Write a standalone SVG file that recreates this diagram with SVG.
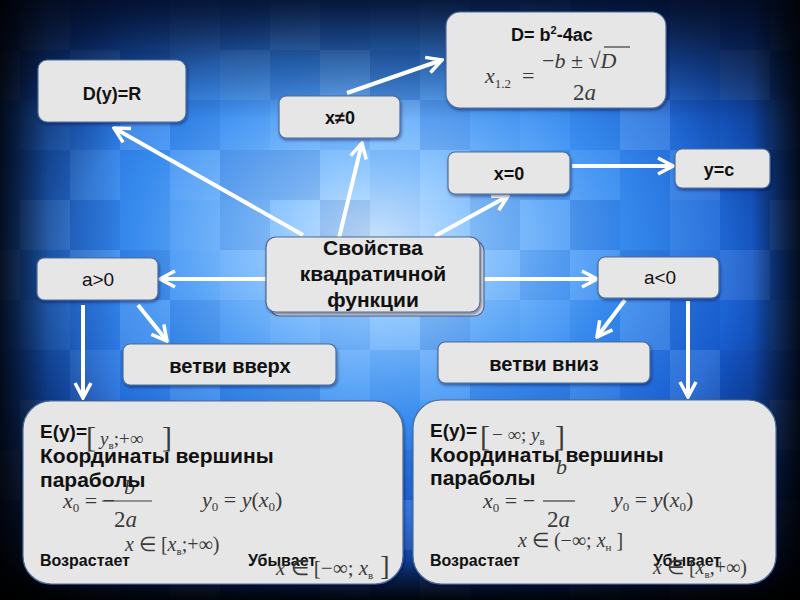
<svg xmlns="http://www.w3.org/2000/svg" width="800" height="600" viewBox="0 0 800 600">
<defs>
<radialGradient id="bg" cx="0.47" cy="0.4" r="0.72">
<stop offset="0" stop-color="#cfe8ff"/>
<stop offset="0.18" stop-color="#86c2ff"/>
<stop offset="0.42" stop-color="#3a8ff2"/>
<stop offset="0.68" stop-color="#1559cc"/>
<stop offset="1" stop-color="#071d55"/>
</radialGradient>
<radialGradient id="vig" cx="0.5" cy="0.45" r="0.75">
<stop offset="0.55" stop-color="#000" stop-opacity="0"/>
<stop offset="0.85" stop-color="#000" stop-opacity="0.45"/>
<stop offset="1" stop-color="#000" stop-opacity="0.9"/>
</radialGradient>
<linearGradient id="topdark" x1="0" y1="0" x2="0" y2="1">
<stop offset="0" stop-color="#020a22" stop-opacity="0.85"/>
<stop offset="0.1" stop-color="#020a22" stop-opacity="0.35"/>
<stop offset="0.2" stop-color="#020a22" stop-opacity="0"/>
<stop offset="0.93" stop-color="#000" stop-opacity="0"/>
<stop offset="1" stop-color="#000" stop-opacity="0.9"/>
</linearGradient>
<linearGradient id="sidedark" x1="0" y1="0" x2="1" y2="0">
<stop offset="0" stop-color="#000" stop-opacity="0.8"/>
<stop offset="0.06" stop-color="#000" stop-opacity="0.2"/>
<stop offset="0.15" stop-color="#000" stop-opacity="0"/>
<stop offset="0.94" stop-color="#000" stop-opacity="0"/>
<stop offset="1" stop-color="#000" stop-opacity="0.8"/>
</linearGradient>
<pattern id="mosaic" width="250" height="200" patternUnits="userSpaceOnUse" x="20" y="0">
<rect x="0" y="0" width="50" height="50" fill="#fff" fill-opacity="0.07"/>
<rect x="50" y="0" width="50" height="50" fill="#002080" fill-opacity="0.10"/>
<rect x="100" y="0" width="50" height="50" fill="#002080" fill-opacity="0.03"/>
<rect x="150" y="0" width="50" height="50" fill="#fff" fill-opacity="0.05"/>
<rect x="200" y="0" width="50" height="50" fill="#002080" fill-opacity="0.08"/>
<rect x="0" y="50" width="50" height="50" fill="#002080" fill-opacity="0.06"/>
<rect x="50" y="50" width="50" height="50" fill="#fff" fill-opacity="0.09"/>
<rect x="100" y="50" width="50" height="50" fill="#002080" fill-opacity="0.12"/>
<rect x="150" y="50" width="50" height="50" fill="#fff" fill-opacity="0.03"/>
<rect x="200" y="50" width="50" height="50" fill="#fff" fill-opacity="0.08"/>
<rect x="0" y="100" width="50" height="50" fill="#fff" fill-opacity="0.03"/>
<rect x="50" y="100" width="50" height="50" fill="#002080" fill-opacity="0.04"/>
<rect x="100" y="100" width="50" height="50" fill="#fff" fill-opacity="0.10"/>
<rect x="150" y="100" width="50" height="50" fill="#002080" fill-opacity="0.09"/>
<rect x="200" y="100" width="50" height="50" fill="#002080" fill-opacity="0.02"/>
<rect x="0" y="150" width="50" height="50" fill="#002080" fill-opacity="0.11"/>
<rect x="50" y="150" width="50" height="50" fill="#fff" fill-opacity="0.06"/>
<rect x="100" y="150" width="50" height="50" fill="#002080" fill-opacity="0.03"/>
<rect x="150" y="150" width="50" height="50" fill="#fff" fill-opacity="0.09"/>
<rect x="200" y="150" width="50" height="50" fill="#002080" fill-opacity="0.10"/>
</pattern>
<marker id="ah" viewBox="0 0 20 20" markerWidth="20" markerHeight="20" refX="18" refY="10" orient="auto" markerUnits="userSpaceOnUse">
<path d="M3,2 L18,10 L3,18" fill="none" stroke="#fff" stroke-width="3.5" stroke-linejoin="miter"/>
</marker>
<filter id="sh" x="-10%" y="-10%" width="130%" height="130%">
<feDropShadow dx="1" dy="2" stdDeviation="1.5" flood-color="#001040" flood-opacity="0.45"/>
</filter>
</defs>
<style>
.box{fill:#e6e6e6;stroke:#4d6c96;stroke-width:1.2;filter:url(#sh)}
.t{font-family:"Liberation Sans",Arial,sans-serif;fill:#111}
.b{font-weight:bold}
.c{text-anchor:middle}
.m{font-family:"Liberation Serif","Times New Roman",serif;font-style:italic;fill:#3a3a3a}
.n{font-family:"Liberation Serif","Times New Roman",serif;fill:#3a3a3a}
.bar{stroke:#3a3a3a;stroke-width:1.2}
#connectors line{stroke:#fff;stroke-width:4;marker-end:url(#ah)}
</style>

<rect width="800" height="600" fill="url(#bg)"/>
<rect width="800" height="600" fill="url(#mosaic)"/>
<rect width="800" height="600" fill="url(#vig)"/>
<rect width="800" height="600" fill="url(#topdark)"/>
<rect width="800" height="600" fill="url(#sidedark)"/>

<g id="connectors">
<line x1="303" y1="235" x2="114" y2="128"/>
<line x1="339" y1="238" x2="362" y2="143"/>
<line x1="347" y1="93" x2="442" y2="60"/>
<line x1="435" y1="236" x2="508" y2="196"/>
<line x1="572" y1="166" x2="673" y2="166"/>
<line x1="266" y1="279" x2="160" y2="279"/>
<line x1="482" y1="279" x2="597" y2="279"/>
<line x1="138" y1="305" x2="167" y2="341"/>
<line x1="83" y1="305" x2="83" y2="398"/>
<line x1="625" y1="300" x2="597" y2="337"/>
<line x1="688" y1="301" x2="688" y2="397"/>
</g>

<g id="node-dy">
<rect class="box" x="38" y="60" width="148" height="62" rx="9"/>
<text class="t b c" x="112" y="100" font-size="18">D(y)=R</text>
</g>

<g id="node-disc">
<rect class="box" x="446" y="12" width="220" height="96" rx="14"/>
<text class="t b" x="511" y="41" font-size="18">D= b<tspan font-size="11" dy="-7">2</tspan><tspan dy="7">-4ac</tspan></text>
<text class="m" x="485" y="83" font-size="22">x<tspan font-size="13" dy="5" font-style="normal">1.2</tspan></text>
<text class="n" x="522" y="83" font-size="22">=</text>
<text class="n" x="542" y="68" font-size="22">−<tspan font-style="italic">b</tspan> ± √<tspan font-style="italic">D</tspan></text>
<line class="bar" x1="604" y1="47" x2="630" y2="47"/>
<text class="m" x="573" y="100" font-size="23"><tspan font-style="normal">2</tspan>a</text>
</g>

<g id="node-xne0">
<rect class="box" x="279" y="96" width="121" height="42" rx="7"/>
<text class="t b c" x="340" y="124" font-size="18">x≠0</text>
</g>

<g id="node-xeq0">
<rect class="box" x="448" y="152" width="122" height="42" rx="7"/>
<text class="t b c" x="509" y="180" font-size="18">x=0</text>
</g>

<g id="node-yc">
<rect class="box" x="675" y="149" width="95" height="39" rx="7"/>
<text class="t b c" x="719" y="176" font-size="18">y=c</text>
</g>

<g id="node-center">
<rect x="270" y="241" width="214" height="75" rx="10" fill="#e2e2e2" stroke="#4d6c96" stroke-width="1.2"/>
<rect class="box" x="266" y="237" width="214" height="75" rx="10"/>
<text class="t b c" x="373" y="255" font-size="21">Свойства</text>
<text class="t b c" x="373" y="281" font-size="21">квадратичной</text>
<text class="t b c" x="373" y="307" font-size="21">функции</text>
</g>

<g id="node-agt0">
<rect class="box" x="37" y="258" width="121" height="42" rx="7"/>
<text class="t c" x="98" y="286" font-size="19">a&gt;0</text>
</g>

<g id="node-alt0">
<rect class="box" x="598" y="257" width="121" height="41" rx="7"/>
<text class="t c" x="660" y="284" font-size="19">a&lt;0</text>
</g>

<g id="node-up">
<rect class="box" x="123" y="344" width="213" height="41" rx="7"/>
<text class="t b c" x="230" y="373" font-size="20">ветви вверх</text>
</g>

<g id="node-down">
<rect class="box" x="438" y="342" width="212" height="41" rx="7"/>
<text class="t b c" x="544" y="371" font-size="20">ветви вниз</text>
</g>

<g id="node-left">
<rect class="box" x="23" y="401" width="380" height="183" rx="28"/>
<text class="n" x="86" y="447" font-size="30">[</text>
<text class="m" x="100" y="445" font-size="19">y<tspan font-size="11" dy="4" font-style="normal">в</tspan><tspan dy="-4" font-style="normal">;+∞</tspan></text>
<text class="n" x="162" y="447" font-size="30">]</text>
<text class="m" x="124" y="494" font-size="22">b</text>
<text class="m" x="63" y="508" font-size="22">x<tspan font-size="13" dy="4" font-style="normal">0</tspan><tspan dy="-4" font-style="normal"> = −</tspan></text>
<line class="bar" x1="102" y1="501" x2="152" y2="501"/>
<text class="m" x="114" y="527" font-size="23"><tspan font-style="normal">2</tspan>a</text>
<text class="m" x="202" y="507" font-size="22">y<tspan font-size="13" dy="4" font-style="normal">0</tspan><tspan dy="-4" font-style="normal"> = </tspan>y<tspan font-style="normal">(</tspan>x<tspan font-size="13" dy="4" font-style="normal">0</tspan><tspan dy="-4" font-style="normal">)</tspan></text>
<text class="m" x="125" y="551" font-size="20">x <tspan font-style="normal">∈ [</tspan>x<tspan font-size="11" dy="4" font-style="normal">в</tspan><tspan dy="-4" font-style="normal">;+∞)</tspan></text>
<text class="t b" x="40" y="438" font-size="19">E(y)=</text>
<text class="t b" x="40" y="463" font-size="21">Координаты вершины</text>
<text class="t b" x="40" y="487" font-size="21">параболы</text>
<text class="t b" x="40" y="566" font-size="16">Возрастает</text>
<text class="t b" x="248" y="566" font-size="16">Убывает</text>
<text class="m" x="276" y="575" font-size="21">x <tspan font-style="normal">∈ [−∞; </tspan>x<tspan font-size="11" dy="4" font-style="normal">в</tspan><tspan dy="-4" font-style="normal" font-size="28"> ]</tspan></text>
</g>

<g id="node-right">
<rect class="box" x="413" y="400" width="363" height="184" rx="28"/>
<text class="n" x="480" y="446" font-size="30">[</text>
<text class="n" x="492" y="441" font-size="19">− ∞; <tspan font-style="italic">y</tspan><tspan font-size="11" dy="4">в</tspan></text>
<text class="n" x="555" y="446" font-size="30">]</text>
<text class="m" x="556" y="474" font-size="22">b</text>
<text class="m" x="483" y="508" font-size="22">x<tspan font-size="13" dy="4" font-style="normal">0</tspan><tspan dy="-4" font-style="normal"> = −</tspan></text>
<line class="bar" x1="543" y1="501" x2="575" y2="501"/>
<text class="m" x="547" y="527" font-size="23"><tspan font-style="normal">2</tspan>a</text>
<text class="m" x="613" y="507" font-size="22">y<tspan font-size="13" dy="4" font-style="normal">0</tspan><tspan dy="-4" font-style="normal"> = </tspan>y<tspan font-style="normal">(</tspan>x<tspan font-size="13" dy="4" font-style="normal">0</tspan><tspan dy="-4" font-style="normal">)</tspan></text>
<text class="m" x="518" y="547" font-size="20">x <tspan font-style="normal">∈ (−∞; </tspan>x<tspan font-size="11" dy="4" font-style="normal">н</tspan><tspan dy="-4" font-style="normal"> ]</tspan></text>
<text class="t b" x="430" y="437" font-size="19">E(y)=</text>
<text class="t b" x="430" y="462" font-size="21">Координаты вершины</text>
<text class="t b" x="430" y="485" font-size="21">параболы</text>
<text class="t b" x="430" y="566" font-size="16">Возрастает</text>
<text class="t b" x="653" y="566" font-size="16">Убывает</text>
<text class="m" x="653" y="574" font-size="20">x <tspan font-style="normal">∈ [</tspan>x<tspan font-size="11" dy="4" font-style="normal">в</tspan><tspan dy="-4" font-style="normal">,+∞)</tspan></text>
</g>
</svg>
